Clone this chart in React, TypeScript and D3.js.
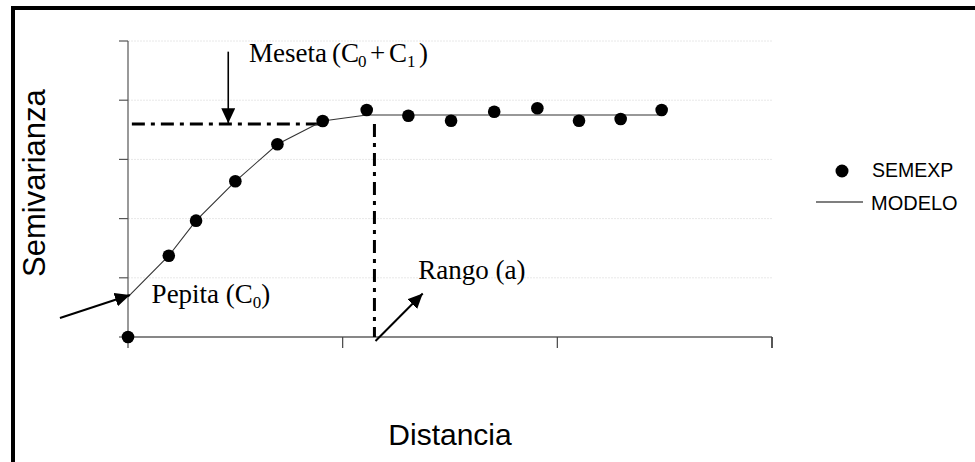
import React from "react";
import * as d3 from "d3";

// experimental semivariogram (SEMEXP)
const distances = [0, 0.19, 0.317, 0.5, 0.696, 0.907, 1.112, 1.306, 1.505, 1.706, 1.907, 2.101, 2.295, 2.486];
const semexp = [0, 1.373, 1.965, 2.63, 3.255, 3.649, 3.834, 3.738, 3.654, 3.806, 3.863, 3.654, 3.682, 3.834];

// fitted model (MODELO)
const modelDist = [0, 0.19, 0.317, 0.5, 0.696, 0.907, 1.112, 2.486];
const modelVal = [0.676, 1.373, 1.965, 2.63, 3.255, 3.649, 3.75, 3.75];

const xTicks = [0, 1, 2, 3];
const yTicks = [0, 1, 2, 3, 4, 5];

// annotation values (data units)
const sillLevel = 3.6;
const rangeDist = 1.148;

const W = 975;
const H = 462;
const serif = "'Liberation Serif', 'Times New Roman', serif";
const sans = "'Liberation Sans', Arial, sans-serif";

export default function App() {
  const x = d3.scaleLinear().domain([0, 3]).range([128, 772]);
  const y = d3.scaleLinear().domain([0, 5]).range([337, 41]);

  const modelLine = d3
    .line<number>()
    .x((d, i) => x(modelDist[i]))
    .y((d) => y(d))(modelVal);

  const dashDot = "13 6 4 6";
  const mBase = y(4.645);

  return (
    <svg
      width={W}
      height={H}
      style={{ position: "absolute", left: 0, top: 0, display: "block", background: "#fff" }}
    >
      <defs>
        <marker
          id="head"
          markerUnits="userSpaceOnUse"
          markerWidth={16}
          markerHeight={14}
          refX={15}
          refY={7}
          orient="auto"
        >
          <path d="M0,0 L15,7 L0,14 Z" fill="#000" />
        </marker>
      </defs>

      {/* outer frame */}
      <rect x={13} y={8} width={1000} height={500} fill="none" stroke="#000" strokeWidth={4} />

      {/* grid */}
      {yTicks.slice(1).map((t) => (
        <line key={"g" + t} x1={x(0)} x2={x(3)} y1={y(t)} y2={y(t)} stroke="#e8e8e8" strokeWidth={1} strokeDasharray="2 1" />
      ))}

      {/* y axis */}
      <line x1={x(0)} x2={x(0)} y1={y(5)} y2={y(0)} stroke="#555" strokeWidth={1.2} />
      {yTicks.map((t) => (
        <line key={"yt" + t} x1={x(0) - 9} x2={x(0)} y1={y(t)} y2={y(t)} stroke="#555" strokeWidth={1.2} />
      ))}

      {/* x axis */}
      <line x1={x(0)} x2={x(3)} y1={y(0)} y2={y(0)} stroke="#111" strokeWidth={1.2} />
      {xTicks.map((t) => (
        <line key={"xt" + t} x1={x(t)} x2={x(t)} y1={y(0)} y2={y(0) + 11} stroke="#444" strokeWidth={t === 3 ? 1.8 : 1.2} />
      ))}

      {/* sill & range guides */}
      <line x1={x(0.018)} x2={x(0.905)} y1={y(sillLevel)} y2={y(sillLevel)} stroke="#000" strokeWidth={3} strokeDasharray={dashDot} />
      <line x1={x(rangeDist)} x2={x(rangeDist)} y1={y(sillLevel)} y2={y(0)} stroke="#000" strokeWidth={3} strokeDasharray={dashDot} />

      {/* model */}
      <path d={modelLine || ""} fill="none" stroke="#333" strokeWidth={1.1} />

      {/* experimental points */}
      {distances.map((d, i) => (
        <circle key={"p" + i} cx={x(d)} cy={y(semexp[i])} r={6.3} fill="#000" />
      ))}

      {/* arrows */}
      <line x1={x(0.467)} x2={x(0.467)} y1={y(4.82)} y2={y(3.61)} stroke="#000" strokeWidth={1.6} markerEnd="url(#head)" />
      <line x1={x(-0.317)} y1={y(0.321)} x2={x(0.009)} y2={y(0.71)} stroke="#000" strokeWidth={2} markerEnd="url(#head)" />
      <line x1={x(1.153)} y1={y(-0.068)} x2={x(1.373)} y2={y(0.735)} stroke="#000" strokeWidth={2} markerEnd="url(#head)" />

      {/* annotation labels */}
      <g fontFamily={serif} fill="#000">
        <text x={x(0.564)} y={mBase} fontSize={27}>Meseta</text>
        <text x={332} y={mBase} fontSize={27}>(C</text>
        <text x={358} y={mBase + 5} fontSize={17}>0</text>
        <text x={370} y={mBase} fontSize={27}>+</text>
        <text x={389} y={mBase} fontSize={27}>C</text>
        <text x={407} y={mBase + 5} fontSize={17}>1</text>
        <text x={419} y={mBase} fontSize={27}>)</text>
      </g>
      <text x={x(0.11)} y={y(0.574)} fontFamily={serif} fontSize={27} fill="#000">
        Pepita (C
        <tspan fontSize={17} dy={5}>0</tspan>
        <tspan dy={-5}>)</tspan>
      </text>
      <text x={x(1.352)} y={y(0.988)} fontFamily={serif} fontSize={27} fill="#000">
        Rango (a)
      </text>

      {/* axis titles */}
      <text
        transform={`translate(45,${y(2.6)}) rotate(-90)`}
        textAnchor="middle"
        fontFamily={sans}
        fontSize={31}
        fill="#000"
      >
        Semivarianza
      </text>
      <text x={450} y={445} textAnchor="middle" fontFamily={sans} fontSize={30} fill="#000">
        Distancia
      </text>

      {/* legend */}
      <circle cx={842} cy={171} r={6.5} fill="#000" />
      <text x={872} y={177} fontFamily={sans} fontSize={19.5} fill="#000">SEMEXP</text>
      <line x1={816} x2={863} y1={202} y2={202} stroke="#000" strokeWidth={1.2} />
      <text x={871} y={210} fontFamily={sans} fontSize={20} fill="#000">MODELO</text>
    </svg>
  );
}
